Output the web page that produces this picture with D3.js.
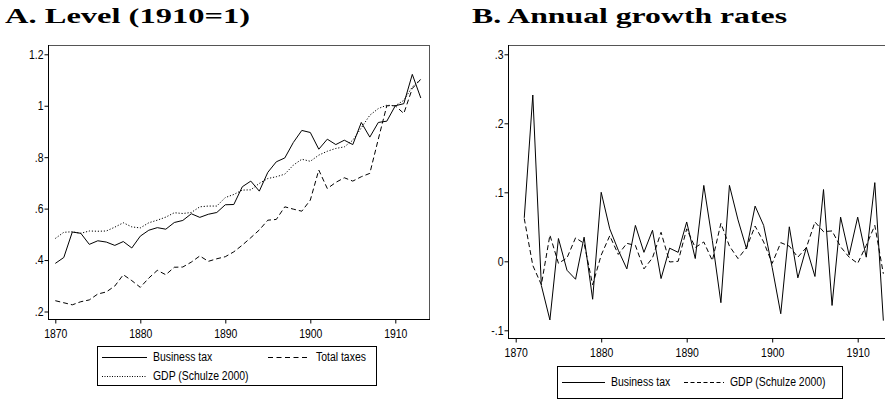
<!DOCTYPE html>
<html>
<head>
<meta charset="utf-8">
<script src="https://cdn.jsdelivr.net/npm/d3@7"></script>
<style>
  body { margin: 0; background: #fff; }
  svg { display: block; }
  .tick text { font-family: "Liberation Sans Narrow", "Arial Narrow", "Liberation Sans", sans-serif; font-size: 12px; fill: #000; }
  .legend text { font-family: "Liberation Sans Narrow", "Arial Narrow", "Liberation Sans", sans-serif; font-size: 12px; fill: #000; }
  .title { font-family: "Liberation Serif", serif; font-weight: bold; font-size: 21px; fill: #000; }
</style>
</head>
<body>
<script>
// years of the level series
const years = [1870, 1871, 1872, 1873, 1874, 1875, 1876, 1877, 1878, 1879,
  1880, 1881, 1882, 1883, 1884, 1885, 1886, 1887, 1888, 1889,
  1890, 1891, 1892, 1893, 1894, 1895, 1896, 1897, 1898, 1899,
  1900, 1901, 1902, 1903, 1904, 1905, 1906, 1907, 1908, 1909,
  1910, 1911, 1912, 1913];

// panel A, index 1910=1
const businessTax = [0.387, 0.41, 0.509, 0.504, 0.461, 0.475, 0.47, 0.457, 0.472, 0.447,
  0.493, 0.516, 0.526, 0.52, 0.546, 0.554, 0.58, 0.566, 0.578, 0.585,
  0.615, 0.616, 0.685, 0.707, 0.668, 0.741, 0.782, 0.797, 0.857, 0.904,
  0.896, 0.831, 0.87, 0.849, 0.866, 0.849, 0.935, 0.878, 0.935, 0.94,
  1.0, 1.008, 1.122, 1.03];
const totalTaxes = [0.242, 0.234, 0.226, 0.238, 0.245, 0.268, 0.276, 0.299, 0.343, 0.32,
  0.294, 0.33, 0.36, 0.343, 0.372, 0.373, 0.392, 0.416, 0.395, 0.405,
  0.413, 0.432, 0.458, 0.487, 0.517, 0.555, 0.558, 0.607, 0.598, 0.59,
  0.633, 0.75, 0.678, 0.702, 0.72, 0.707, 0.724, 0.737, 0.87, 1.0,
  1.0, 0.97, 1.067, 1.103];
const gdp = [0.484, 0.508, 0.51, 0.504, 0.513, 0.512, 0.513, 0.528, 0.545, 0.529,
  0.525, 0.545, 0.555, 0.567, 0.584, 0.581, 0.585, 0.607, 0.61, 0.61,
  0.643, 0.655, 0.672, 0.673, 0.698, 0.717, 0.724, 0.734, 0.769, 0.792,
  0.784, 0.808, 0.823, 0.834, 0.84, 0.866, 0.914, 0.963, 0.989, 1.002,
  1.0, 1.021, 1.073, 1.103];

// panel B, growth rates 1871-1913
const growthYears = years.slice(1);
const businessTaxGrowth = [0.063, 0.241, -0.035, -0.085, 0.033, -0.013, -0.026, 0.035, -0.055, 0.1,
  0.047, 0.016, -0.011, 0.052, 0.013, 0.045, -0.025, 0.019, 0.013, 0.057,
  0.004, 0.11, 0.03, -0.06, 0.11, 0.06, 0.018, 0.08, 0.052, -0.009,
  -0.076, 0.05, -0.024, 0.02, -0.022, 0.104, -0.064, 0.064, 0.009, 0.064,
  0.006, 0.114, -0.086];
const gdpGrowth = [0.062, -0.006, -0.034, 0.038, -0.003, 0.005, 0.034, 0.026, -0.034, 0.009,
  0.037, 0.01, 0.026, 0.023, -0.011, 0.005, 0.042, -0.001, 0, 0.047,
  0.02, 0.028, 0.001, 0.055, 0.022, 0.004, 0.02, 0.051, 0.028, -0.003,
  0.027, 0.022, 0.006, 0.02, 0.057, 0.043, 0.044, 0.021, 0.006, -0.003,
  0.023, 0.052, -0.018];

const xTicks = [1870, 1880, 1890, 1900, 1910];
const levelTicks = [0.2, 0.4, 0.6, 0.8, 1, 1.2];
const growthTicks = [-0.1, 0, 0.1, 0.2, 0.3];

const svg = d3.select("body").append("svg")
  .attr("width", 885)
  .attr("height", 411);

// stata style labels: .2 instead of 0.2
function stataFmt(v) {
  return String(+v.toFixed(2)).replace(/^0\./, ".").replace(/^-0\./, "-.");
}

// no narrow helvetica here, so squeeze the sans text a bit
function narrow(sel) {
  sel.each(function () {
    let len = this.getComputedTextLength();
    d3.select(this)
      .attr("textLength", len * 0.87)
      .attr("lengthAdjust", "spacingAndGlyphs");
  });
}

function panel(opts) {
  let x = d3.scaleLinear().domain([1870, 1910]).range(opts.xRange);
  let y = d3.scaleLinear().domain(opts.yDomain).range(opts.yRange);
  let box = opts.box;

  let g = svg.append("g");

  g.append("rect")
    .attr("x", box.left + 0.5)
    .attr("y", box.top + 0.5)
    .attr("width", box.right - box.left)
    .attr("height", box.bottom - box.top)
    .attr("fill", "none")
    .attr("stroke", "#555")
    .attr("stroke-width", 1);

  let xAxis = g.append("g")
    .attr("transform", "translate(0," + (box.bottom + 0.5) + ")")
    .call(d3.axisBottom(x).tickValues(xTicks).tickFormat(d3.format("d")).tickSize(4).tickSizeOuter(0));
  xAxis.select(".domain").attr("d", "M" + box.left + ",0H" + (box.right + 1)).attr("stroke", "#000");
  xAxis.selectAll(".tick text").attr("dy", "0.95em").call(narrow);

  let yAxis = g.append("g")
    .attr("transform", "translate(" + (box.left + 0.5) + ",0)")
    .call(d3.axisLeft(y).tickValues(opts.yTicks).tickFormat(stataFmt).tickSize(4).tickSizeOuter(0));
  yAxis.select(".domain").attr("d", "M0," + box.top + "V" + (box.bottom + 1)).attr("stroke", "#000");
  yAxis.selectAll(".tick text").attr("x", -5).call(narrow);

  opts.series.forEach(function (s) {
    let line = d3.line()
      .x(function (d, i) { return x(s.years[i]); })
      .y(function (d) { return y(d); });
    g.append("path")
      .datum(s.values)
      .attr("d", line)
      .attr("fill", "none")
      .attr("stroke", "#000")
      .attr("stroke-width", 1)
      .attr("stroke-linejoin", "miter")
      .attr("stroke-dasharray", s.dash);
  });

  g.append("text")
    .attr("class", "title")
    .attr("x", opts.title.x)
    .attr("y", 23)
    .attr("textLength", opts.title.w)
    .attr("lengthAdjust", "spacingAndGlyphs")
    .text(opts.title.text);

  let lg = g.append("g").attr("class", "legend");
  let lb = opts.legend.box;
  lg.append("rect")
    .attr("x", lb.x + 0.5).attr("y", lb.y + 0.5)
    .attr("width", lb.w).attr("height", lb.h)
    .attr("fill", "none").attr("stroke", "#000").attr("stroke-width", 1);
  opts.legend.items.forEach(function (it) {
    lg.append("line")
      .attr("x1", it.x).attr("x2", it.x + it.len)
      .attr("y1", it.y + 0.5).attr("y2", it.y + 0.5)
      .attr("stroke", "#000").attr("stroke-width", 1)
      .attr("stroke-dasharray", it.dash);
    lg.append("text")
      .attr("x", it.x + it.len + 6)
      .attr("y", it.y + 4)
      .text(it.label)
      .call(narrow);
  });
}

panel({
  box: {left: 48, right: 429, top: 45, bottom: 319},
  xRange: [55.3, 395.3],
  yDomain: [0.2, 1.2],
  yRange: [311.5, 54.3],
  yTicks: levelTicks,
  title: {x: 5, w: 245, text: "A. Level (1910=1)"},
  series: [
    {years: years, values: gdp, dash: "1.2,1.8"},
    {years: years, values: totalTaxes, dash: "5,3"},
    {years: years, values: businessTax, dash: null}
  ],
  legend: {
    box: {x: 97, y: 346, w: 279, h: 39},
    items: [
      {x: 102, y: 357, len: 45, dash: null, label: "Business tax"},
      {x: 268, y: 357, len: 42, dash: "5,3.5", label: "Total taxes"},
      {x: 102, y: 376, len: 45, dash: "1,1.5", label: "GDP (Schulze 2000)"}
    ]
  }
});

panel({
  box: {left: 508, right: 887, top: 45, bottom: 338},
  xRange: [515.7, 857.7],
  yDomain: [-0.1, 0.3],
  yRange: [330.3, 54.3],
  yTicks: growthTicks,
  title: {x: 472, w: 315, text: "B. Annual growth rates"},
  series: [
    {years: growthYears, values: gdpGrowth, dash: "5,3"},
    {years: growthYears, values: businessTaxGrowth, dash: null}
  ],
  legend: {
    box: {x: 557, y: 366, w: 285, h: 32},
    items: [
      {x: 562, y: 382, len: 43, dash: null, label: "Business tax"},
      {x: 684, y: 382, len: 40, dash: "4,2.5", label: "GDP (Schulze 2000)"}
    ]
  }
});
</script>
</body>
</html>
